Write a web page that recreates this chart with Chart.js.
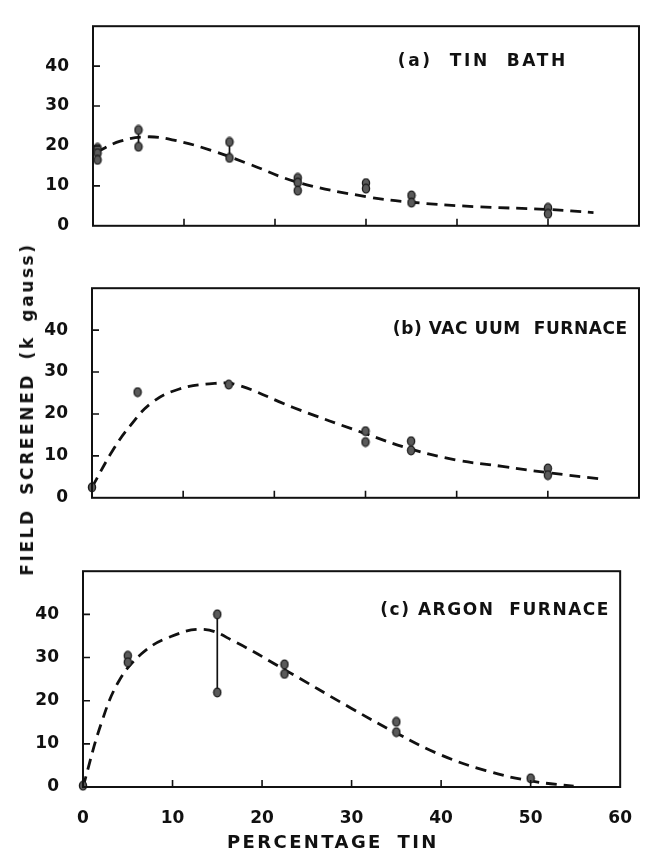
<!DOCTYPE html>
<html>
<head>
<meta charset="utf-8">
<title>Field screened vs percentage tin</title>
<script src="https://cdn.jsdelivr.net/npm/chart.js@4.4.1/dist/chart.umd.min.js"></script>
<style>
  html, body { margin: 0; padding: 0; background: #fff; }
  #wrap { position: relative; width: 645px; height: 852px; overflow: hidden; font-family: "DejaVu Sans", sans-serif; color: #111; }
  #wrap canvas { position: absolute; left: 0; }
  .ytitle { position: absolute; left: 27px; top: 409px; transform: translate(-50%, -50%) rotate(-90deg);
            white-space: nowrap; font-size: 17px; font-weight: bold; letter-spacing: 2.6px; word-spacing: 5px; }
  .xtitle { position: absolute; left: 227px; top: 831px; white-space: nowrap; font-size: 18px; font-weight: bold; letter-spacing: 2.4px; word-spacing: 6px; }
</style>
</head>
<body>
<div id="wrap">
  <canvas id="panelA" width="645" height="252" style="top:0px"></canvas>
  <canvas id="panelB" width="645" height="262" style="top:262px"></canvas>
  <canvas id="panelC" width="645" height="307" style="top:545px"></canvas>
  <div class="ytitle">FIELD  SCREENED (k gauss)</div>
  <div class="xtitle">PERCENTAGE TIN</div>
</div>
<script>
// (a) tin bath
var tinA   = [0.5, 0.5, 0.5, 5, 5, 15, 15, 22.5, 22.5, 22.5, 30, 30, 35, 35, 50, 50];
var fieldA = [19.5, 18.2, 16.5, 24, 19.8, 21, 17, 12, 10.8, 8.8, 10.7, 9.3, 7.6, 5.8, 4.5, 3.0];
var barTinA  = [5, 15, 22.5];
var barLowA  = [19.8, 17, 8.8];
var barHighA = [24, 21, 12];
var curveTinA   = [0.4, 3, 6, 9, 13, 17, 22.5, 30, 35, 42, 50, 55];
var curveFieldA = [18.5, 21.2, 22.3, 21.4, 18.9, 15.6, 10.9, 7.3, 5.9, 4.8, 4.1, 3.3];

// (b) vacuum furnace
var tinB   = [0, 5, 15, 30, 30, 35, 35, 50, 50];
var fieldB = [2.5, 25.2, 27, 15.9, 13.3, 13.5, 11.3, 7, 5.4];
var barTinB = [], barLowB = [], barHighB = [];
var curveTinB   = [0, 2.3, 4.2, 6.5, 9.5, 13.5, 16, 22, 30, 35, 40, 45, 50, 56.2];
var curveFieldB = [2.5, 11.4, 17.2, 22.6, 25.9, 27.3, 26.9, 21.6, 15.3, 11.6, 9.0, 7.5, 6.0, 4.4];

// (c) argon furnace
var tinC   = [0, 5, 5, 15, 15, 22.5, 22.5, 35, 35, 50];
var fieldC = [0.3, 30.4, 28.9, 40, 21.9, 28.4, 26.2, 15.1, 12.7, 2];
var barTinC  = [15];
var barLowC  = [21.9];
var barHighC = [40];
var curveTinC   = [0, 2, 4, 6.5, 9.5, 13.5, 17, 22.5, 30, 35, 40, 45, 50, 54.8];
var curveFieldC = [0, 14.5, 24.5, 30.8, 34.6, 36.5, 33.6, 27.2, 18.2, 12.5, 7.4, 3.8, 1.4, 0.2];

var xTickMarks = [10, 20, 30, 40, 50];
var yTickMarks = [10, 20, 30, 40];

var INK = '#111';
var FONT = '"DejaVu Sans", sans-serif';

function pairs(xs, ys) {
	return xs.map(function (x, i) { return { x: x, y: ys[i] }; });
}

function dotImage() {
	var c = document.createElement('canvas');
	c.width = 10; c.height = 11;
	var g = c.getContext('2d');
	g.beginPath();
	g.ellipse(5, 5.5, 3.6, 4.3, 0, 0, Math.PI * 2);
	g.fillStyle = '#5a5a5a';
	g.fill();
	g.lineWidth = 1.3;
	g.strokeStyle = '#1a1a1a';
	g.stroke();
	return c;
}
var DOT = dotImage();

// frame, inward tick marks and the panel caption (stretched between two x values)
var framePlugin = {
	id: 'frame',
	afterDatasetsDraw: function (chart, args, opts) {
		var a = chart.chartArea, ctx = chart.ctx;
		var xs = chart.scales.x, ys = chart.scales.y;
		ctx.save();
		ctx.strokeStyle = INK;
		ctx.lineWidth = 2;
		ctx.strokeRect(a.left, a.top, a.right - a.left, a.bottom - a.top);
		ctx.lineWidth = 1.6;
		ctx.beginPath();
		xTickMarks.forEach(function (v) {
			var px = xs.getPixelForValue(v);
			ctx.moveTo(px, a.bottom); ctx.lineTo(px, a.bottom - 7);
		});
		yTickMarks.forEach(function (v) {
			var py = ys.getPixelForValue(v);
			ctx.moveTo(a.left, py); ctx.lineTo(a.left + 7, py);
		});
		ctx.stroke();

		ctx.fillStyle = INK;
		ctx.font = 'bold 17px ' + FONT;
		ctx.textBaseline = 'middle';
		var x0 = xs.getPixelForValue(opts.x), x1 = xs.getPixelForValue(opts.x2);
		ctx.letterSpacing = '0px';
		var w = ctx.measureText(opts.text).width;
		var gap = Math.max(0, (x1 - x0 - w) / (opts.text.length - 1));
		ctx.letterSpacing = gap.toFixed(2) + 'px';
		ctx.fillText(opts.text, x0, ys.getPixelForValue(opts.y));
		ctx.restore();
	}
};

function makePanel(id, cfg) {
	var datasets = [{
		data: pairs(cfg.tin, cfg.field),
		pointStyle: DOT,
		pointRadius: 5,
		showLine: false,
		clip: false
	}];
	cfg.barTin.forEach(function (t, i) {
		datasets.push({
			data: [{ x: t, y: cfg.barLow[i] }, { x: t, y: cfg.barHigh[i] }],
			showLine: true,
			borderColor: INK,
			borderWidth: 1.7,
			pointRadius: 0,
			clip: false
		});
	});
	datasets.push({
		data: pairs(cfg.curveTin, cfg.curveField),
		showLine: true,
		borderColor: INK,
		borderWidth: 2.8,
		borderDash: [11, 7],
		tension: 0.4,
		pointRadius: 0,
		clip: false
	});

	return new Chart(document.getElementById(id), {
		type: 'scatter',
		data: { datasets: datasets },
		plugins: [framePlugin],
		options: {
			responsive: false,
			animation: false,
			events: [],
			layout: { padding: cfg.padding },
			plugins: {
				legend: { display: false },
				tooltip: { enabled: false },
				frame: cfg.caption
			},
			scales: {
				x: {
					type: 'linear', min: 0, max: 60,
					display: cfg.showX,
					grid: { display: false },
					border: { display: false },
					ticks: { stepSize: 10, padding: 13, color: INK, font: { family: FONT, size: 17, weight: 'bold' } },
					afterFit: function (s) { if (cfg.showX) s.height = 65; }
				},
				y: {
					type: 'linear', min: 0, max: 50,
					grid: { display: false },
					border: { display: false },
					ticks: {
						stepSize: 10, padding: 16, color: INK, font: { family: FONT, size: 17, weight: 'bold' },
						callback: function (v) { return v === 50 ? '' : v; }
					},
					afterFit: function (s) { s.width = cfg.axisLeft; }
				}
			}
		}
	});
}

makePanel('panelA', {
	tin: tinA, field: fieldA, barTin: barTinA, barLow: barLowA, barHigh: barHighA,
	curveTin: curveTinA, curveField: curveFieldA,
	axisLeft: 93, showX: false,
	padding: { left: 0, right: 4, top: 12, bottom: 14 },
	caption: { text: '(a)  TIN  BATH', x: 33.5, x2: 51.9, y: 41.2 }
});
makePanel('panelB', {
	tin: tinB, field: fieldB, barTin: barTinB, barLow: barLowB, barHigh: barHighB,
	curveTin: curveTinB, curveField: curveFieldB,
	axisLeft: 92, showX: false,
	padding: { left: 0, right: 6, top: 21, bottom: 12 },
	caption: { text: '(b) VAC UUM  FURNACE', x: 33, x2: 58.7, y: 40.2 }
});
makePanel('panelC', {
	tin: tinC, field: fieldC, barTin: barTinC, barLow: barLowC, barHigh: barHighC,
	curveTin: curveTinC, curveField: curveFieldC,
	axisLeft: 83, showX: true,
	padding: { left: 0, right: 10, top: 13, bottom: 0 },
	caption: { text: '(c) ARGON  FURNACE', x: 33.2, x2: 58.7, y: 40.9 }
});
</script>
</body>
</html>
